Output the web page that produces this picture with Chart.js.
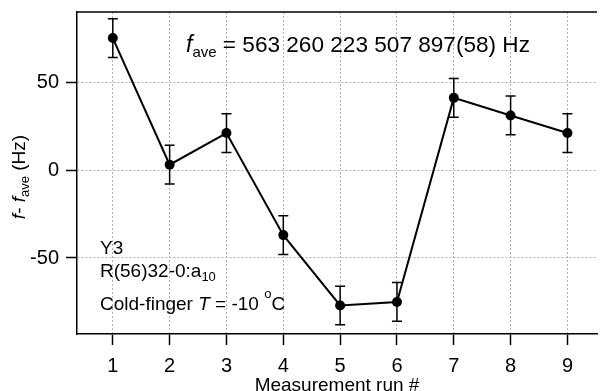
<!DOCTYPE html>
<html>
<head>
<meta charset="utf-8">
<script src="https://cdn.jsdelivr.net/npm/chart.js@4/dist/chart.umd.min.js"></script>
<style>
  html, body { margin: 0; padding: 0; background: #fff; }
  #wrap { width: 602px; height: 391px; position: relative; }
</style>
</head>
<body>
<div id="wrap"><canvas id="runChart"></canvas></div>
<script>
// measurement runs and the offset from the mean frequency (Hz)
const runs = [1, 2, 3, 4, 5, 6, 7, 8, 9];
const offsets = [75, 3, 21, -37, -77, -75, 41, 31, 21];
const errors = [11, 11, 11, 11, 11, 11, 11, 11, 11];

const xTicks = [1, 2, 3, 4, 5, 6, 7, 8, 9];
const yTicks = [-50, 0, 50];

const FONT = '"Liberation Sans", Arial, sans-serif';

// draws a list of [text, size, italic, dy] pieces starting at x
const drawRich = (ctx, parts, x, y) => {
    let cx = x;
    parts.forEach(([text, size, italic, dy]) => {
        ctx.font = (italic ? 'italic ' : '') + size + 'px ' + FONT;
        ctx.fillText(text, cx, y + (dy || 0));
        cx += ctx.measureText(text).width;
    });
    return cx - x;
};

const measureRich = (ctx, parts) => {
    let w = 0;
    parts.forEach(([text, size, italic]) => {
        ctx.font = (italic ? 'italic ' : '') + size + 'px ' + FONT;
        w += ctx.measureText(text).width;
    });
    return w;
};

// error bars + frame top line + text labels
const extrasPlugin = {
    id: 'extras',
    afterDatasetsDraw(chart) {
        const ctx = chart.ctx;
        const xs = chart.scales.x;
        const ys = chart.scales.y;
        ctx.save();
        ctx.strokeStyle = '#000';
        ctx.lineWidth = 1.5;
        runs.forEach((r, i) => {
            const px = xs.getPixelForValue(r);
            const top = ys.getPixelForValue(offsets[i] + errors[i]);
            const bot = ys.getPixelForValue(offsets[i] - errors[i]);
            ctx.beginPath();
            ctx.moveTo(px, top);
            ctx.lineTo(px, bot);
            ctx.moveTo(px - 5, top);
            ctx.lineTo(px + 5, top);
            ctx.moveTo(px - 5, bot);
            ctx.lineTo(px + 5, bot);
            ctx.stroke();
        });
        ctx.restore();
    },
    afterDraw(chart) {
        const ctx = chart.ctx;
        const area = chart.chartArea;
        ctx.save();
        // top frame line
        ctx.strokeStyle = '#000';
        ctx.lineWidth = 1.5;
        ctx.beginPath();
        ctx.moveTo(area.left, area.top);
        ctx.lineTo(area.right, area.top);
        ctx.stroke();

        ctx.fillStyle = '#000';
        ctx.textBaseline = 'alphabetic';
        ctx.textAlign = 'left';

        // mean frequency
        drawRich(ctx, [
            ['f', 23, true, 0],
            ['ave', 15, false, 5],
            [' = 563 260 223 507 897(58) Hz', 22.6, false, 0]
        ], 186, 52);

        // sample notes
        drawRich(ctx, [['Y3', 19, false, 0]], 100, 254);
        drawRich(ctx, [['R(56)32-0:a', 19, false, 0], ['10', 13, false, 4]], 100, 277);
        drawRich(ctx, [
            ['Cold-finger ', 19, false, 0],
            ['T', 19, true, 0],
            [' = -10 ', 19, false, 0],
            ['o', 13, false, -12],
            ['C', 19, false, 0]
        ], 100, 310);

        // y axis title, rotated
        const yTitle = [
            ['f', 19, true, 0],
            ['- ', 19, false, 0],
            ['f', 19, true, 0],
            ['ave', 13, false, 4],
            [' (Hz)', 19, false, 0]
        ];
        const w = measureRich(ctx, yTitle);
        ctx.translate(25, 177);
        ctx.rotate(-Math.PI / 2);
        drawRich(ctx, yTitle, -w / 2, 0);
        ctx.restore();
    }
};

const ctx = document.getElementById('runChart').getContext('2d');

new Chart(ctx, {
    type: 'scatter',
    data: {
        datasets: [{
            data: runs.map((r, i) => ({ x: r, y: offsets[i] })),
            showLine: true,
            borderColor: '#000',
            backgroundColor: '#000',
            borderWidth: 2,
            pointRadius: 5,
            pointBorderWidth: 0,
            tension: 0
        }]
    },
    options: {
        responsive: true,
        maintainAspectRatio: false,
        animation: false,
        events: [],
        layout: { padding: { top: 12, right: 0, left: 0, bottom: 0 } },
        plugins: {
            legend: { display: false },
            tooltip: { enabled: false }
        },
        scales: {
            x: {
                type: 'linear',
                min: 0.37,
                max: 9.52,
                afterBuildTicks: scale => { scale.ticks = xTicks.map(v => ({ value: v })); },
                afterFit: scale => {
                    scale.height = 57;
                    scale.paddingLeft = 0;
                    scale.paddingRight = 0;
                },
                border: { color: '#000', width: 1.5, dash: [2, 2] },
                grid: {
                    color: '#b0b0b0',
                    lineWidth: 1,
                    tickColor: '#000',
                    tickWidth: 1.5,
                    tickLength: 11,
                    tickBorderDash: []
                },
                ticks: {
                    color: '#000',
                    font: { family: FONT, size: 20 },
                    padding: 9,
                    maxRotation: 0
                },
                title: {
                    display: true,
                    text: 'Measurement run #',
                    color: '#000',
                    font: { family: FONT, size: 19, lineHeight: 0.5 },
                    padding: 0
                }
            },
            y: {
                min: -93.2,
                max: 89.8,
                afterBuildTicks: scale => { scale.ticks = yTicks.map(v => ({ value: v })); },
                afterFit: scale => {
                    scale.width = 77;
                    scale.paddingTop = 0;
                    scale.paddingBottom = 0;
                },
                border: { color: '#000', width: 1.5, dash: [2, 2] },
                grid: {
                    color: '#b0b0b0',
                    lineWidth: 1,
                    tickColor: '#000',
                    tickWidth: 1.5,
                    tickLength: 11,
                    tickBorderDash: []
                },
                ticks: {
                    color: '#000',
                    font: { family: FONT, size: 20 },
                    padding: 7
                }
            }
        }
    },
    plugins: [extrasPlugin]
});
</script>
</body>
</html>
